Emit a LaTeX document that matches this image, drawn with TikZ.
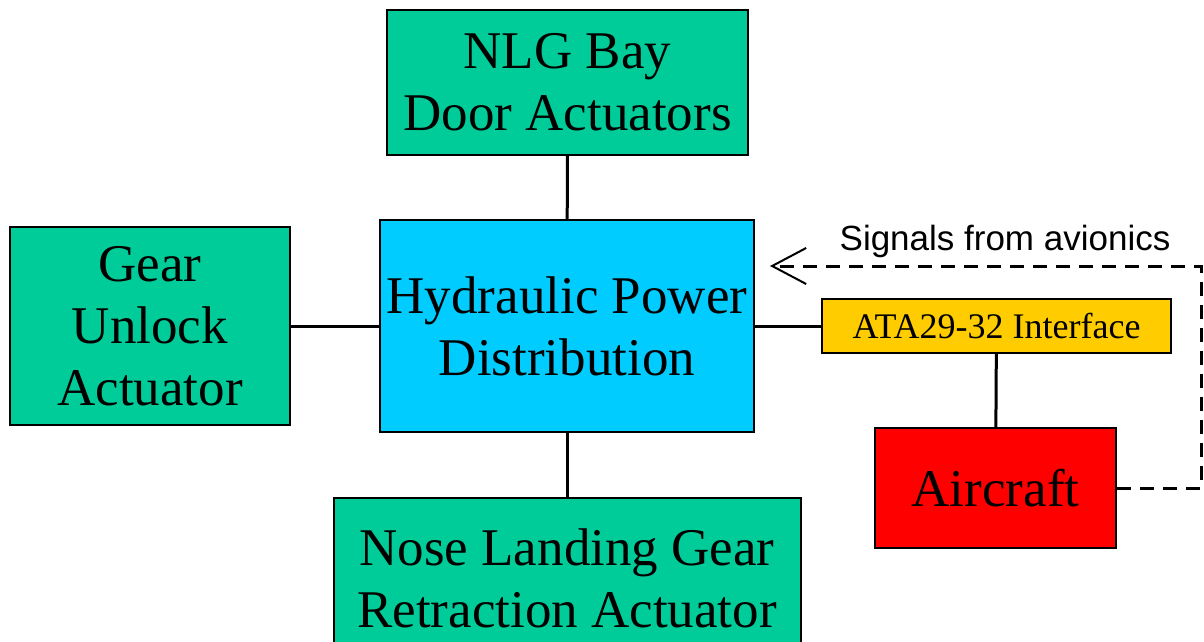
\documentclass[tikz,border=0pt]{standalone}
\usepackage{fontspec}
\setmainfont{Liberation Serif}
\newfontfamily\labelfont{Liberation Sans}
\usetikzlibrary{arrows.meta, positioning}
\definecolor{actgreen}{RGB}{0,204,153}
\definecolor{hydblue}{RGB}{0,204,255}
\definecolor{ataorange}{RGB}{255,204,0}
\definecolor{acred}{RGB}{255,0,0}

\begin{document}
\begin{tikzpicture}[
    x=0.5pt, y=-0.5pt,
    block/.style={rectangle, draw=black, line width=1pt, align=center, inner sep=0pt, font=\fontsize{26.5}{31}\selectfont},
    actuator/.style={block, fill=actgreen},
    hydraulic/.style={block, fill=hydblue},
    iface/.style={rectangle, draw=black, line width=1pt, fill=ataorange, inner sep=0pt, font=\fontsize{18}{21}\selectfont},
    plane/.style={block, fill=acred},
    link/.style={line width=1.5pt},
    signal/.style={line width=1.5pt, dash pattern=on 7pt off 4.5pt, -{Straight Barb[length=17pt, width=18pt, line width=1pt]}}
]
\useasboundingbox (0,0) rectangle (1204,642);
% Nodes
\node [hydraulic, minimum width=187pt, minimum height=106pt] (hpd) at (567,326) {Hydraulic Power\\Distribution};
\node [actuator, minimum width=180.5pt, minimum height=72.5pt] (door) at (567.5,82.5) {NLG Bay\\Door Actuators};
\node [actuator, minimum width=140pt, minimum height=99pt] (unlock) at (150,326) {Gear\\Unlock\\Actuator};
\node [actuator, minimum width=233.5pt, minimum height=80pt, anchor=north] (retract) at (567,497) {Nose Landing Gear\\Retraction Actuator};
\node [iface, minimum width=174.5pt, minimum height=27pt] (ata) at (996.5,326) {ATA29-32 Interface};
\node [plane, minimum width=120.5pt, minimum height=60pt] (aircraft) at (995.5,488) {Aircraft};
\coordinate (corner) at (1201,488);
\coordinate (sigend) at (770,266);

% Connections
\draw [link] (door) -- (hpd);
\draw [link] (unlock) -- (hpd);
\draw [link] (hpd) -- (retract);
\draw [link] (hpd) -- (ata);
\draw [link] (ata) -- (aircraft);
\draw [signal] (aircraft.east) -- (corner) |- (sigend);
\node [font=\labelfont\fontsize{17.5}{20}\selectfont] (siglabel) at (1005,241) {Signals from avionics};
\end{tikzpicture}
\end{document}
